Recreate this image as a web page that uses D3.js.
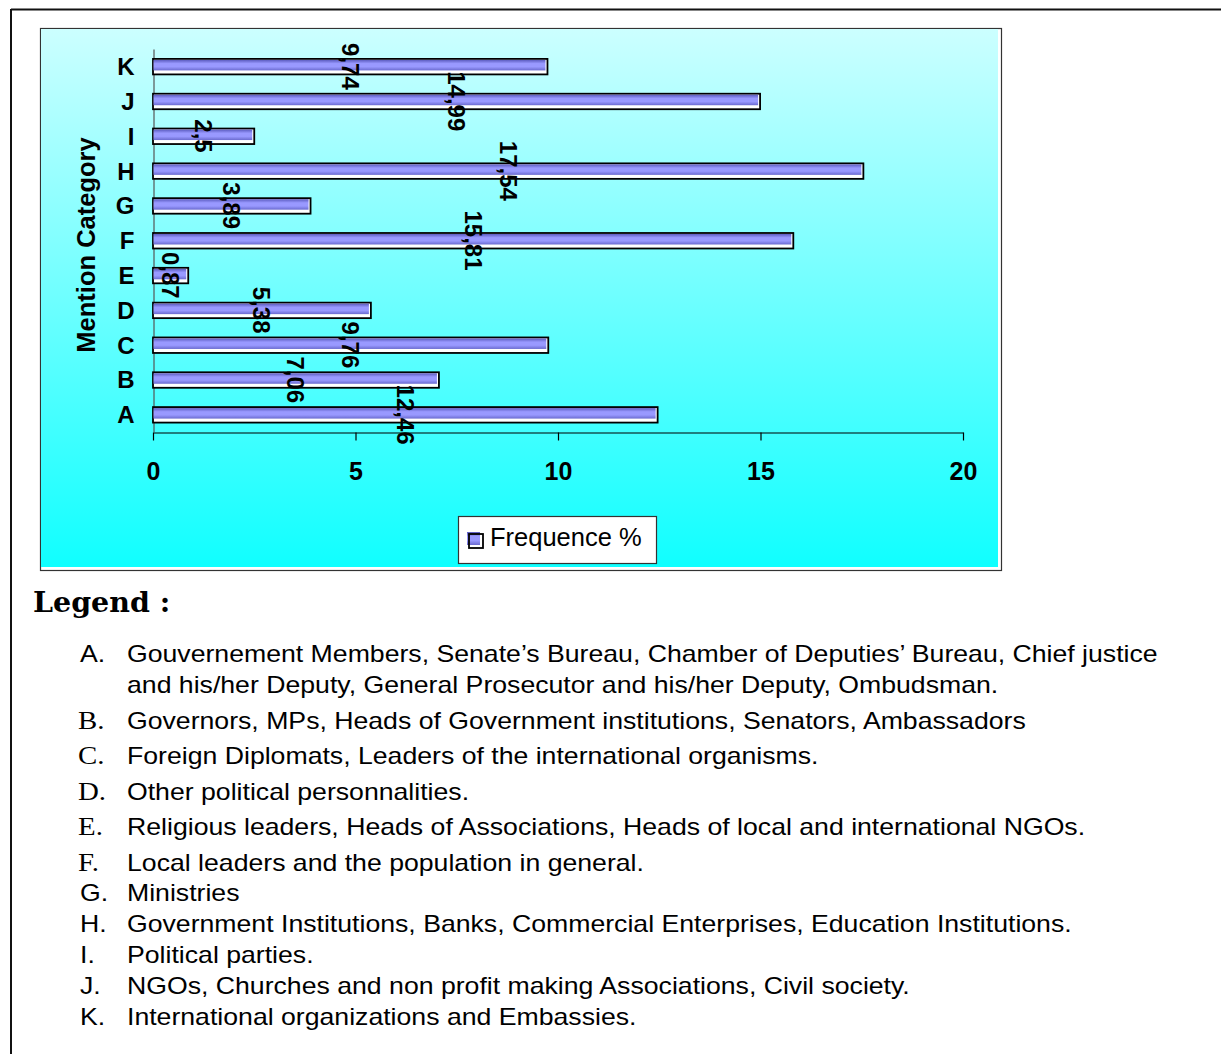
<!DOCTYPE html>
<html>
<head>
<meta charset="utf-8">
<script src="https://cdn.jsdelivr.net/npm/d3@7"></script>
<style>
  html, body { margin: 0; padding: 0; background: #fff; }
  svg { display: block; }
</style>
</head>
<body>
<svg id="chart" width="1221" height="1054"></svg>
<script>
// ---- Data ----
const categories = ["A","B","C","D","E","F","G","H","I","J","K"];
const frequence = [12.46, 7.06, 9.76, 5.38, 0.87, 15.81, 3.89, 17.54, 2.5, 14.99, 9.74];
const valueLabels = ["12,46","7,06","9,76","5,38","0,87","15,81","3,89","17,54","2,5","14,99","9,74"];
const xTicks = [0, 5, 10, 15, 20];
const seriesName = "Frequence %";
const yTitle = "Mention Category";
const legendTitle = "Legend :";
const legendLetters = ["A.","B.","C.","D.","E.","F.","G.","H.","I.","J.","K."];
const legendSerif = [false,true,true,true,true,true,false,false,false,false,false];
const legendTexts = [
  ["Gouvernement Members, Senate\u2019s Bureau, Chamber of Deputies\u2019 Bureau, Chief justice",
   "and his/her Deputy, General Prosecutor and his/her Deputy, Ombudsman."],
  ["Governors, MPs, Heads of Government institutions, Senators, Ambassadors"],
  ["Foreign Diplomats, Leaders of the international organisms."],
  ["Other political personnalities."],
  ["Religious leaders, Heads of Associations, Heads of local and international NGOs."],
  ["Local leaders and the population in general."],
  ["Ministries"],
  ["Government Institutions, Banks, Commercial Enterprises, Education Institutions."],
  ["Political parties."],
  ["NGOs, Churches and non profit making Associations, Civil society."],
  ["International organizations and Embassies."]
];

const svg = d3.select("#chart");
const SANS = "'Liberation Sans', Arial, sans-serif";
const SERIF = "'Liberation Serif', 'Times New Roman', serif";

// defs
const defs = svg.append("defs");
const bg = defs.append("linearGradient").attr("id","bgGrad").attr("x1",0).attr("y1",0).attr("x2",0).attr("y2",1);
bg.append("stop").attr("offset","0%").attr("stop-color","#ccffff");
bg.append("stop").attr("offset","100%").attr("stop-color","#10ffff");
const bgr = defs.append("linearGradient").attr("id","barGrad").attr("x1",0).attr("y1",0).attr("x2",0).attr("y2",1);
bgr.append("stop").attr("offset","0%").attr("stop-color","#5c5cc0");
bgr.append("stop").attr("offset","35%").attr("stop-color","#9999ff");
bgr.append("stop").attr("offset","65%").attr("stop-color","#9999ff");
bgr.append("stop").attr("offset","100%").attr("stop-color","#6b6bd0");

// page frame
svg.append("line").attr("x1",11).attr("y1",9.5).attr("x2",1221).attr("y2",9.5).attr("stroke","#111").attr("stroke-width",2);
svg.append("line").attr("x1",11).attr("y1",9).attr("x2",11).attr("y2",1054).attr("stroke","#111").attr("stroke-width",2);

// chart area
svg.append("rect").attr("x",40.5).attr("y",28.5).attr("width",961).attr("height",542)
  .attr("fill","#fff").attr("stroke","#333").attr("stroke-width",1.2);
svg.append("rect").attr("x",41).attr("y",29).attr("width",957).attr("height",538)
  .attr("fill","url(#bgGrad)");

// scales
const x = d3.scaleLinear().domain([0,20]).range([153,963]);
const y = d3.scaleBand().domain(categories.slice().reverse()).range([49,432]);

// x axis
const xAxis = svg.append("g").attr("transform","translate(0,432.5)")
  .call(d3.axisBottom(x).tickValues(xTicks).tickSize(8).tickSizeOuter(0).tickFormat(d3.format("d")));
xAxis.select(".domain").attr("stroke","#000").attr("stroke-width",1.2);
xAxis.selectAll(".tick line").attr("stroke","#000").attr("stroke-width",1.2);
xAxis.selectAll(".tick text").attr("y",47.5).attr("dy",0)
  .attr("font-family",SANS).attr("font-weight","bold").attr("font-size",25).attr("fill","#000");

// y axis
const yAxis = svg.append("g").attr("transform","translate(153.5,0)")
  .call(d3.axisLeft(y).tickSize(0).tickSizeOuter(0).tickPadding(19));
yAxis.select(".domain").attr("stroke","#555").attr("stroke-width",1.2);
yAxis.selectAll(".tick text").attr("dy","0.36em")
  .attr("font-family",SANS).attr("font-weight","bold").attr("font-size",24).attr("fill","#000");

// y title
svg.append("text").attr("transform","translate(86,245) rotate(-90)")
  .attr("text-anchor","middle").attr("dominant-baseline","central")
  .attr("font-family",SANS).attr("font-weight","bold").attr("font-size",25.5).text(yTitle);

// bars
const data = categories.map((c,i)=>({cat:c, v:frequence[i], lab:valueLabels[i]}));
const barG = svg.append("g");
data.forEach(d=>{
  const c = y(d.cat) + y.bandwidth()/2;
  barG.append("rect").attr("x",x(0)).attr("y",c-7.5).attr("width",x(d.v)-x(0)).attr("height",15.5)
    .attr("fill","#fff").attr("stroke","#000").attr("stroke-width",1.8);
  barG.append("rect").attr("x",x(0)+0.5).attr("y",c-6.5).attr("width",Math.max(0,x(d.v)-x(0)-2.5)).attr("height",10.5)
    .attr("fill","url(#barGrad)");
});
// data labels
const labG = svg.append("g");
data.forEach(d=>{
  const c = y(d.cat) + y.bandwidth()/2;
  labG.append("text").attr("transform",`translate(${x(d.v/2)},${c}) rotate(90)`)
    .attr("text-anchor","middle").attr("dominant-baseline","central")
    .attr("font-family",SANS).attr("font-weight","bold").attr("font-size",24).attr("fill","#000")
    .text(d.lab);
});

// series legend
svg.append("rect").attr("x",458.5).attr("y",516.5).attr("width",198).attr("height",47)
  .attr("fill","#fff").attr("stroke","#333").attr("stroke-width",1.2);
svg.append("rect").attr("x",467).attr("y",532).attr("width",13).attr("height",13).attr("fill","url(#barGrad)");
svg.append("rect").attr("x",469).attr("y",534).attr("width",14).attr("height",14)
  .attr("fill","none").attr("stroke","#000").attr("stroke-width",1.8);
svg.append("text").attr("x",490).attr("y",546).attr("font-family",SANS).attr("font-size",25.5).attr("fill","#000").text(seriesName);

// Legend title
svg.append("text").attr("x",33).attr("y",612).attr("font-family","'DejaVu Serif', serif").attr("font-weight","bold")
  .attr("font-size",28.5).attr("fill","#000").text(legendTitle);

// Legend list (text in the reference is slightly wider than Liberation Sans)
const STRETCH = 1.11;
function stretch(sel){
  const n = sel.node();
  const w = n.getComputedTextLength();
  sel.attr("textLength", w*STRETCH).attr("lengthAdjust","spacingAndGlyphs");
}
const lineY = [[662,693],[729],[764],[800],[835],[871],[901],[932],[963],[994],[1025]];
legendLetters.forEach((l,i)=>{
  const lt = svg.append("text").attr("x", legendSerif[i] ? 78 : 80).attr("y",lineY[i][0])
    .attr("font-family", legendSerif[i] ? SERIF : SANS).attr("font-size", legendSerif[i] ? 26 : 24)
    .attr("fill","#000").text(l);
  stretch(lt);
  legendTexts[i].forEach((t,j)=>{
    const tt = svg.append("text").attr("x",127).attr("y",lineY[i][j])
      .attr("font-family",SANS).attr("font-size",24).attr("fill","#000").text(t);
    stretch(tt);
  });
});
</script>
</body>
</html>
